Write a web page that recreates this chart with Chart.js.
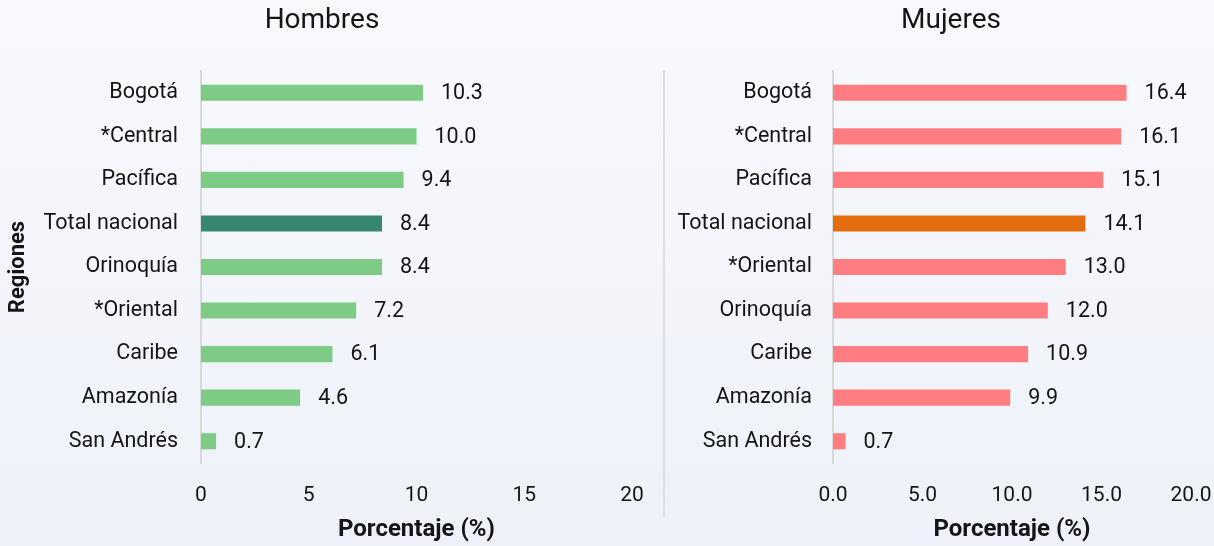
<!DOCTYPE html>
<html lang="es">
<head>
<meta charset="utf-8">
<script src="https://cdn.jsdelivr.net/npm/chart.js@4.4.1/dist/chart.umd.min.js"></script>
<style>
  html, body { margin: 0; padding: 0; }
  body {
    width: 1214px; height: 546px; overflow: hidden; position: relative;
    background: linear-gradient(#f8f9fc, #eef1f9);
  }
  .box { position: absolute; top: 0; height: 546px; }
  #boxH { left: 0; width: 644px; }
  #boxM { left: 668px; width: 546px; }
  .sep { position: absolute; left: 663px; top: 70px; width: 2px; height: 447px; background: #dcdee2; }
</style>
</head>
<body>
<div class="box" id="boxH"><canvas id="chartH"></canvas></div>
<div class="sep"></div>
<div class="box" id="boxM"><canvas id="chartM"></canvas></div>
<script>
// Datos
const regionesHombres = ['Bogotá', '*Central', 'Pacífica', 'Total nacional', 'Orinoquía', '*Oriental', 'Caribe', 'Amazonía', 'San Andrés'];
const valoresHombres = [10.3, 10.0, 9.4, 8.4, 8.4, 7.2, 6.1, 4.6, 0.7];

const regionesMujeres = ['Bogotá', '*Central', 'Pacífica', 'Total nacional', '*Oriental', 'Orinoquía', 'Caribe', 'Amazonía', 'San Andrés'];
const valoresMujeres = [16.4, 16.1, 15.1, 14.1, 13.0, 12.0, 10.9, 9.9, 0.7];

const ejeX = [0, 5, 10, 15, 20];

const FONT = 'Roboto, "Liberation Sans", sans-serif';
const TEXT = '#151515';

// etiquetas de valor al final de cada barra
const valueLabels = {
  id: 'valueLabels',
  afterDatasetsDraw(chart) {
    const { ctx } = chart;
    const meta = chart.getDatasetMeta(0);
    ctx.save();
    ctx.font = '21.5px ' + FONT;
    ctx.fillStyle = TEXT;
    ctx.textAlign = 'left';
    ctx.textBaseline = 'middle';
    meta.data.forEach((bar, i) => {
      const v = chart.data.datasets[0].data[i];
      ctx.fillText(v.toFixed(1), bar.x + 18, bar.y + 1);
    });
    ctx.restore();
  }
};

// desplaza el bloque del título para centrarlo como en el original
const titleShift = {
  id: 'titleShift',
  afterLayout(chart, args, opts) {
    if (chart.titleBlock && opts.shift) chart.titleBlock.left += opts.shift;
  }
};

function makeChart(id, titulo, labels, data, colors, opts) {
  const ctx = document.getElementById(id).getContext('2d');
  return new Chart(ctx, {
    type: 'bar',
    data: {
      labels: labels,
      datasets: [{
        data: data,
        backgroundColor: colors,
        barPercentage: 0.37,
        categoryPercentage: 1,
      }],
    },
    options: {
      indexAxis: 'y',
      responsive: true,
      maintainAspectRatio: false,
      animation: false,
      layout: { padding: { right: opts.padRight, left: opts.padLeft, top: 0, bottom: 0 } },
      plugins: {
        legend: { display: false },
        tooltip: { enabled: false },
        titleShift: { shift: opts.titleShift },
        title: {
          display: true,
          text: titulo,
          color: TEXT,
          font: { family: FONT, size: 28, weight: 'normal' },
          padding: { top: 4, bottom: 33.4 },
        },
      },
      scales: {
        x: {
          min: ejeX[0],
          max: ejeX[ejeX.length - 1],
          afterBuildTicks: (scale) => { scale.ticks = ejeX.map(v => ({ value: v })); },
          grid: { display: false, drawTicks: false },
          border: { display: false },
          ticks: {
            color: TEXT,
            font: { family: FONT, size: 21 },
            padding: 20,
            maxRotation: 0,
            callback: (v) => opts.decimals ? Number(v).toFixed(1) : v,
          },
          title: {
            display: true,
            text: 'Porcentaje (%)',
            color: TEXT,
            font: { family: FONT, size: 24, weight: 'bold' },
            padding: { top: 0, bottom: 1.6 },
          },
          afterFit: (scale) => {
            scale.height = 83;
            scale.paddingLeft = 0;
            scale.paddingRight = 0;
          },
        },
        y: {
          grid: { display: false, drawTicks: false },
          border: { display: true, color: '#d9d9d9', width: 2 },
          ticks: {
            color: TEXT,
            font: { family: FONT, size: 21.5 },
            padding: opts.labelPad,
          },
          title: {
            display: opts.yTitle,
            text: 'Regiones',
            color: TEXT,
            font: { family: FONT, size: 22, weight: 'bold' },
            padding: { top: -7, bottom: 0 },
          },
          afterFit: (scale) => {
            scale.width = opts.yWidth;
            scale.paddingTop = 0;
            scale.paddingBottom = 0;
          },
        },
      },
    },
    plugins: [valueLabels, titleShift],
  });
}

const verde = '#7dcb84', verdeTotal = '#378773';
const rosa = '#ff7c80', naranja = '#e36c0e';

makeChart('chartH', 'Hombres', regionesHombres, valoresHombres,
  regionesHombres.map(r => r === 'Total nacional' ? verdeTotal : verde),
  { padLeft: 12, padRight: 12, yWidth: 189, labelPad: 23, yTitle: true, decimals: false, titleShift: 0 });

makeChart('chartM', 'Mujeres', regionesMujeres, valoresMujeres,
  regionesMujeres.map(r => r === 'Total nacional' ? naranja : rosa),
  { padLeft: 0, padRight: 23, yWidth: 165, labelPad: 21, yTitle: false, decimals: true, titleShift: 43 });
</script>
</body>
</html>
